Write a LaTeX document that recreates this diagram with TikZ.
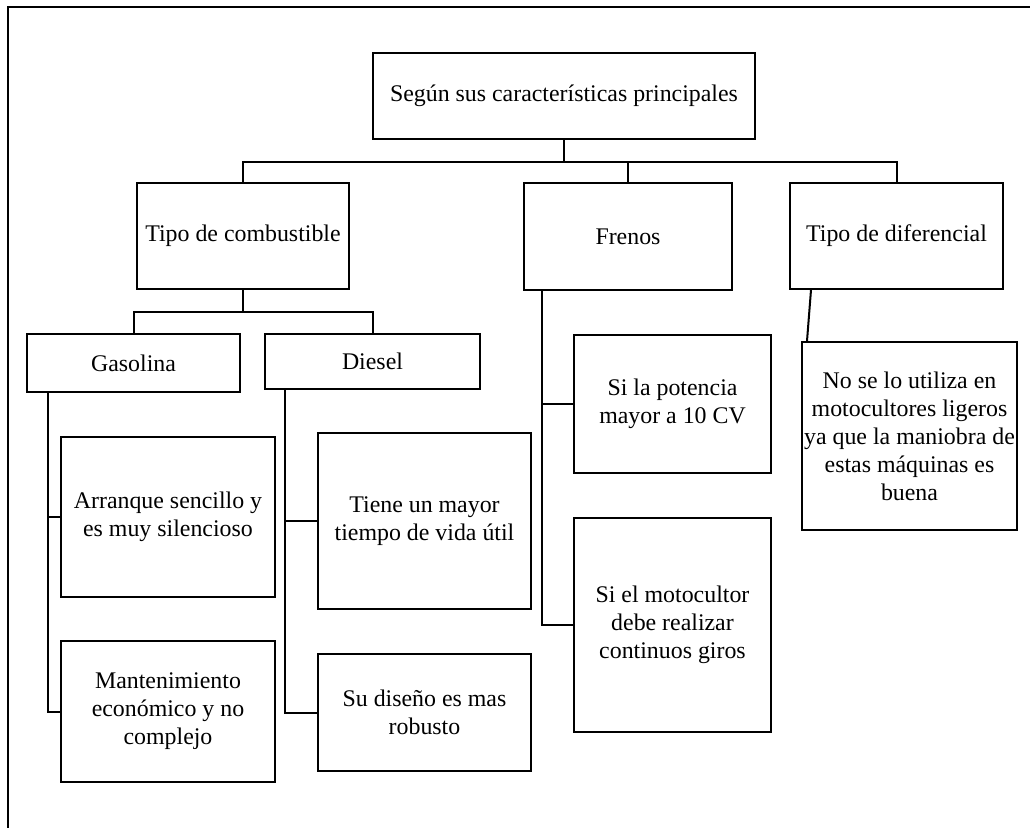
\documentclass[tikz,border=0pt]{standalone}
\usepackage{fontspec}
\setmainfont{Liberation Serif}
\begin{document}
\begin{tikzpicture}[x=0.75pt,y=-0.75pt,
  box/.style={draw, line width=1.5pt, inner sep=0pt, align=center,
    font=\fontsize{17.9}{21}\selectfont},
  link/.style={line width=1.5pt},
  frame/.style={line width=0.9pt}]
\useasboundingbox (0,0) rectangle (1036,828);
% box: name, left, top, right, bottom, text
\newcommand\bx[6]{\node[box, minimum width={(#4-#2)*0.75pt}, minimum height={(#5-#3)*0.75pt}]
  (#1) at ({(#2+#4)/2},{(#3+#5)/2}) {#6};}

% page frame (left and top edges)
\coordinate (fb) at (8,828);
\coordinate (fc) at (8,7);
\coordinate (fr) at (1030,7);
\draw[frame] (fb) -- (fc) -- (fr);

% root
\bx{top}{373}{53}{755}{139}{Según sus características principales}

% second level
\bx{comb}{137}{183}{349}{289}{Tipo de combustible}
\bx{fren}{524}{183}{732}{290}{Frenos}
\bx{dif}{790}{183}{1003}{289}{Tipo de diferencial}

% fuel types
\bx{gas}{27}{334}{240}{392}{Gasolina}
\bx{die}{265}{334}{480}{389}{Diesel}

% leaves
\bx{arr}{61}{437}{275}{597}{Arranque sencillo y\\es muy silencioso}
\bx{mant}{61}{641}{275}{782}{Mantenimiento\\económico y no\\complejo}
\bx{tiene}{318}{433}{531}{609}{Tiene un mayor\\tiempo de vida útil}
\bx{rob}{318}{654}{531}{771}{Su diseño es mas\\robusto}
\bx{pot}{574}{335}{771}{473}{Si la potencia\\mayor a 10 CV}
\bx{moto}{574}{518}{771}{732}{Si el motocultor\\debe realizar\\continuos giros}
\bx{nose}{802}{342}{1017}{530}{No se lo utiliza en\\motocultores ligeros\\ya que la maniobra de\\estas máquinas es\\buena}

% bus lines
\coordinate (b1) at (564,162);
\coordinate (b2) at (243,312);

\draw[link] (top.south) -- (top.south |- b1);
\draw[link] (comb.north) |- (dif.north |- b1) -- (dif.north);
\draw[link] (fren.north) -- (fren.north |- b1);

\draw[link] (comb.south) -- (comb.south |- b2);
\draw[link] (gas.north) |- (die.north |- b2) -- (die.north);

% side spines
\draw[link] ([xshift=16.5pt]gas.south west) |- (mant.west);
\draw[link] ([xshift=16.5pt]gas.south west |- arr.west) -- (arr.west);

\draw[link] ([xshift=16pt]die.south west) |- (rob.west);
\draw[link] ([xshift=16pt]die.south west |- tiene.west) -- (tiene.west);

\draw[link] ([xshift=14.25pt]fren.south west) |- (moto.west);
\draw[link] ([xshift=14.25pt]fren.south west |- pot.west) -- (pot.west);

\draw[link] ([xshift=16.5pt]dif.south west) -- ([xshift=4.5pt]nose.north west);
\end{tikzpicture}
\end{document}
